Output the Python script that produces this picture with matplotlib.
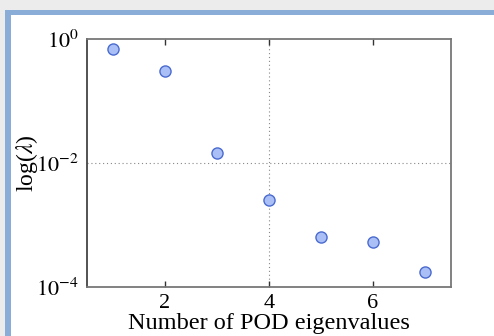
import matplotlib.pyplot as plt
import matplotlib
from matplotlib.patches import Rectangle
import numpy as np

matplotlib.rcParams['font.family'] = ['Liberation Serif', 'DejaVu Serif']
matplotlib.rcParams['mathtext.fontset'] = 'stix'

# data
n_eig = [1, 2, 3, 4, 5, 6, 7]
lam = [0.69, 0.30, 0.0145, 0.0025, 6.4e-4, 5.4e-4, 1.75e-4]
xticks = [2, 4, 6]
yticks = [1e0, 1e-2, 1e-4]
ytick_labels = [r'$10^{0}$', r'$10^{-2}$', r'$10^{-4}$']
grid_x = [4]
grid_y = [1e-2]

W, H = 494, 336
fig = plt.figure(figsize=(W / 100, H / 100), dpi=100)

# screenshot-like frame: grey outside, blue border, white page
fig.patches.append(Rectangle((0, 0), 1, 1, transform=fig.transFigure,
                             facecolor='#ececec', edgecolor='none', zorder=-3))
fig.patches.append(Rectangle((5 / W, 0), 1, 1 - 10 / H, transform=fig.transFigure,
                             facecolor='#8aadd8', edgecolor='none', zorder=-2))
fig.patches.append(Rectangle((11 / W, 0), 1, 1 - 15 / H, transform=fig.transFigure,
                             facecolor='white', edgecolor='none', zorder=-1))

ax = fig.add_axes([87 / W, 1 - 287 / H, (451 - 87) / W, (287 - 39) / H])
ax.set_facecolor('white')
ax.semilogy(n_eig, lam, 'o', markersize=8, markerfacecolor='#a9bff5',
            markeredgecolor='#4a6ad0', markeredgewidth=1.0, zorder=3)

for gx in grid_x:
    ax.axvline(gx, color='#888888', linestyle=(0, (1, 2.5)), linewidth=0.8, zorder=1)
for gy in grid_y:
    ax.axhline(gy, color='#888888', linestyle=(0, (1, 2.5)), linewidth=0.8, zorder=1)

ax.set_xlim(0.5, 7.5)
ax.set_ylim(1e-4, 1e0)
ax.set_xticks(xticks)
ax.set_xticklabels([str(t) for t in xticks], fontsize=16)
ax.set_yticks(yticks)
ax.set_yticklabels(ytick_labels, fontsize=16)
ax.yaxis.set_minor_locator(matplotlib.ticker.NullLocator())
ax.tick_params(direction='in', length=4, width=1, top=True, right=False,
               colors='#333333')
ax.tick_params(axis='x', pad=5)
ax.tick_params(axis='y', length=0, pad=6)
for t in ax.get_xticklabels() + ax.get_yticklabels():
    t.set_color('black')

for s in ax.spines.values():
    s.set_color('#777777')
    s.set_linewidth(1.3)
ax.spines['left'].set_color('#444444')

ax.set_xlabel('Number of POD eigenvalues', fontsize=17.5)
ax.xaxis.set_label_coords(0.5, -0.104)
ax.set_ylabel(r'log($\lambda$)', fontsize=17)
ax.yaxis.set_label_coords(-0.13, 0.5)

fig.savefig('out.png', dpi=100)
